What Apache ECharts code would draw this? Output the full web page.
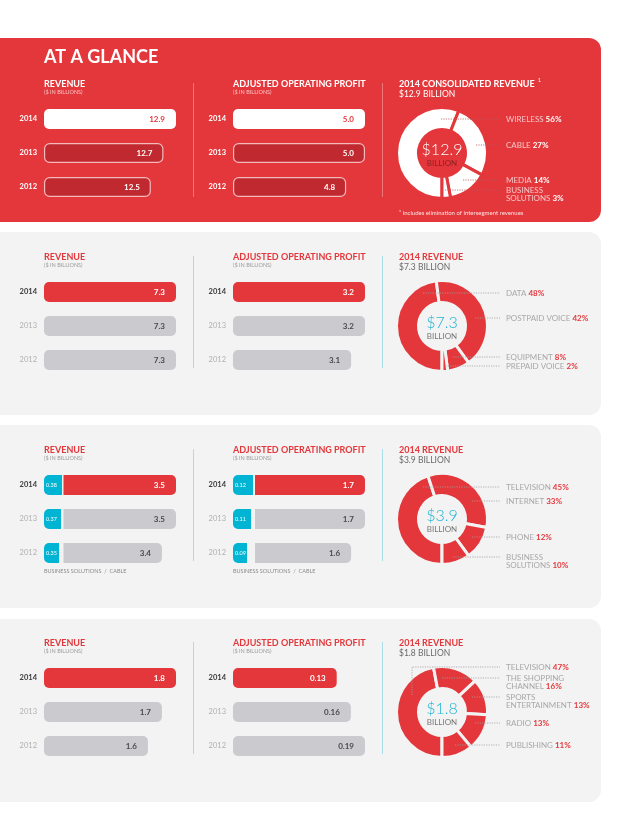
<!DOCTYPE html>
<html><head><meta charset="utf-8">
<script src="https://cdn.jsdelivr.net/npm/echarts@6/dist/echarts.min.js"></script>
<style>html,body{margin:0;padding:0;background:#fff;}#c{width:644px;height:840px;}</style>
</head><body><div id="c"></div>
<script>
// ---------- DATA ----------
const years = ['2014', '2013', '2012'];

// Consolidated
const consRevenue = [12.9, 12.7, 12.5];
const consProfit = [5.0, 5.0, 4.8];
const consSegments = ['WIRELESS', 'CABLE', 'MEDIA', 'BUSINESS\nSOLUTIONS'];
const consShares = [56, 27, 14, 3];
const consTotal = '$12.9';

// Wireless
const wirelessRevenue = [7.3, 7.3, 7.3];
const wirelessProfit = [3.2, 3.2, 3.1];
const wirelessSegments = ['DATA', 'POSTPAID VOICE', 'EQUIPMENT', 'PREPAID VOICE'];
const wirelessShares = [48, 42, 8, 2];
const wirelessTotal = '$7.3';

// Cable (business solutions / cable)
const cableBsRevenue = [0.38, 0.37, 0.35];
const cableRevenue = [3.5, 3.5, 3.4];
const cableBsProfit = [0.12, 0.11, 0.09];
const cableProfit = [1.7, 1.7, 1.6];
const cableSegments = ['TELEVISION', 'INTERNET', 'PHONE', 'BUSINESS\nSOLUTIONS'];
const cableShares = [45, 33, 12, 10];
const cableTotal = '$3.9';

// Media
const mediaRevenue = [1.8, 1.7, 1.6];
const mediaProfit = [0.13, 0.16, 0.19];
const mediaSegments = ['TELEVISION', 'THE SHOPPING\nCHANNEL', 'SPORTS\nENTERTAINMENT', 'RADIO', 'PUBLISHING'];
const mediaShares = [47, 16, 13, 13, 11];
const mediaTotal = '$1.8';

// ---------- STYLE / LAYOUT ----------
const RED = '#e4373b', DARK = '#c0292f', BAR_GREY = '#cbcbcf', BG = '#f3f3f3', CYAN = '#00b4d3';
const FONT = 'Lato, "Noto Sans", sans-serif';
const grids = [], xAxes = [], yAxes = [], series = [], graphic = [];

function addBars(o) {
  const gi = grids.length;
  const red = o.theme === 'red';
  grids.push({ left: o.left, top: o.mid - 51, width: o.width, height: 102, outerBoundsMode: 'none', containLabel: false });
  xAxes.push({ type: 'value', gridIndex: gi, min: o.min, max: o.max, startValue: o.min, show: false });
  yAxes.push({
    type: 'category', gridIndex: gi, data: years, inverse: true,
    axisLine: { show: false }, axisTick: { show: false }, splitLine: { show: false },
    axisLabel: {
      show: !!o.years, margin: 7,
      formatter: (v, i) => (i === 0 ? '{a|' : '{b|') + v + '}',
      rich: {
        a: { fontFamily: FONT, fontSize: 7.5, fontWeight: 'bold', color: red ? '#fff' : '#3a3a3a' },
        b: { fontFamily: FONT, fontSize: 7.5, fontWeight: red ? 'bold' : 'normal', color: red ? '#fff' : '#b0b0b0' }
      }
    }
  });
  const data = o.values.map((v, i) => {
    let fill, border = null, lab;
    if (o.kind === 'bs') { fill = CYAN; lab = '#fff'; }
    else if (red) { fill = i === 0 ? '#fff' : DARK; lab = i === 0 ? RED : '#fff'; if (i > 0) border = '#f4b9bb'; }
    else { fill = i === 0 ? RED : BAR_GREY; lab = i === 0 ? '#fff' : '#4a4a4a'; }
    const r = o.kind === 'bs' ? [5, 0, 0, 5] : (o.kind === 'cable' ? [0, 5, 5, 0] : 5);
    return { value: v, itemStyle: { color: fill, borderRadius: r, borderColor: border || fill, borderWidth: border ? 1.2 : 0 }, label: { color: lab } };
  });
  series.push({
    type: 'bar', xAxisIndex: gi, yAxisIndex: gi, barWidth: 20, data, animation: false, silent: true,
    label: {
      show: true, position: o.kind === 'bs' ? 'insideLeft' : 'insideRight', distance: o.kind === 'bs' ? 2 : 11,
      formatter: p => p.value.toFixed(o.dec), fontFamily: FONT,
      fontSize: o.kind === 'bs' ? 5.5 : 8, fontWeight: o.kind === 'bs' ? 'normal' : 'bold'
    }
  });
}

function lead(y, x0) { return { y, pts: [[x0, y], [500, y]] }; }

function addPie(o) {
  const red = o.theme === 'red';
  series.push({
    type: 'pie', center: [442, o.mid], radius: [23.5, 45.5], startAngle: -90, clockwise: true,
    avoidLabelOverlap: false, silent: true, animation: false,
    itemStyle: { color: red ? '#fff' : RED, borderColor: red ? RED : BG, borderWidth: 3 },
    label: {
      show: true, position: 'outside', fontFamily: FONT, fontSize: 8, lineHeight: 8.5,
      formatter: p => `{n|${p.name}} {p|${p.value}%}`,
      rich: {
        n: { fontFamily: FONT, fontSize: 8, lineHeight: 8.5, color: red ? '#f5c6c8' : '#a8a8a8' },
        p: { fontFamily: FONT, fontSize: 8, lineHeight: 8.5, fontWeight: 'bold', color: red ? '#fff' : RED }
      }
    },
    labelLine: { show: false },
    labelLayout: params => {
      const L = o.leaders[params.dataIndex];
      return { x: 506, y: L.y - 4.25, align: 'left', verticalAlign: 'top' };
    },
    data: o.names.map((n, i) => ({ name: n, value: o.shares[i] }))
  });
  // leader lines drawn above the ring
  o.leaders.forEach(L => graphic.push({
    type: 'polyline', z: 60, silent: true, shape: { points: L.pts },
    style: { stroke: red ? '#b9575a' : '#a0a0a0', lineWidth: 0.8, lineDash: [1.2, 1.2], fill: null }
  }));
}

function txt(x, y, text, font, fill, align) {
  return { type: 'text', x, y, z: 50, silent: true,
    style: { text, font, fill, align: align || 'left', verticalAlign: 'middle' } };
}
function vline(x, y1, y2, color) {
  return { type: 'line', z: 5, silent: true, shape: { x1: x, y1, x2: x, y2 }, style: { stroke: color, lineWidth: 1 } };
}

function panel(o) {
  const m = o.mid, red = o.theme === 'red';
  graphic.push({ type: 'rect', z: -10, silent: true, shape: { x: -20, y: o.top, width: 621, height: o.bottom - o.top, r: [0, 12, 12, 0] }, style: { fill: red ? RED : BG } });
  const tc = red ? '#fff' : RED, sc = red ? '#f6c2c4' : '#9a9a9a';
  graphic.push(txt(44, m - 69, 'REVENUE', 'bold 9px ' + FONT, tc));
  graphic.push(txt(44, m - 61, '($ IN BILLIONS)', '5.5px ' + FONT, sc));
  graphic.push(txt(233, m - 69, 'ADJUSTED OPERATING PROFIT', 'bold 9px ' + FONT, tc));
  graphic.push(txt(233, m - 61, '($ IN BILLIONS)', '5.5px ' + FONT, sc));
  if (red) {
    graphic.push({ type: 'text', x: 399, y: m - 69, z: 50, silent: true, style: {
      text: '{a|2014 CONSOLIDATED REVENUE} {s|1}', fill: '#fff', verticalAlign: 'middle',
      rich: { a: { font: 'bold 9px ' + FONT, fill: '#fff' }, s: { font: '5px ' + FONT, fill: '#fff', verticalAlign: 'top' } } } });
  } else {
    graphic.push(txt(399, m - 69, '2014 REVENUE', 'bold 9px ' + FONT, tc));
  }
  graphic.push(txt(399, m - 58.5, o.total + ' BILLION', '8.5px ' + FONT, red ? '#fff' : '#6a6a6a'));
  const dc = red ? '#ee7478' : '#a9dde8';
  graphic.push(vline(193.5, m - 70, m + (red ? 44 : 42), dc));
  graphic.push(vline(382.5, m - 70, m + (red ? 44 : 42), dc));
  graphic.push(txt(442, m - 3, o.total, '300 16px ' + FONT, red ? '#fff' : '#1fb4d4', 'center'));
  graphic.push(txt(442, m + 10.5, 'BILLION', '8px ' + FONT, red ? '#8e1f22' : '#777', 'center'));
}

// ---------- PANEL 1: consolidated ----------
let m = 153;
panel({ mid: m, top: 38, bottom: 222, theme: 'red', total: consTotal });
graphic.push(txt(44, 57, 'AT A GLANCE', 'bold 18px ' + FONT, '#fff'));
graphic.push(txt(399, m + 60, '\u00b9 Includes elimination of intersegment revenues', '6px ' + FONT, '#fbe0e0'));
addBars({ left: 44, width: 132, mid: m, values: consRevenue, min: 10.8, max: 12.9, dec: 1, theme: 'red', years: true });
addBars({ left: 233, width: 132, mid: m, values: consProfit, min: 3.6, max: 5.0, dec: 1, theme: 'red', years: true });
addPie({ mid: m, theme: 'red', names: consSegments, shares: consShares,
  leaders: [lead(m - 34, 441), lead(m - 8, 476), lead(m + 27, 463), lead(m + 37, 445)] });

// ---------- PANEL 2: wireless ----------
m = 326;
panel({ mid: m, top: 232, bottom: 415, theme: 'light', total: wirelessTotal });
addBars({ left: 44, width: 132, mid: m, values: wirelessRevenue, min: 6.3, max: 7.3, dec: 1, theme: 'light', years: true });
addBars({ left: 233, width: 132, mid: m, values: wirelessProfit, min: 2.25, max: 3.2, dec: 1, theme: 'light', years: true });
addPie({ mid: m, theme: 'light', names: wirelessSegments, shares: wirelessShares,
  leaders: [lead(m - 33, 423), lead(m - 8, 475), lead(m + 31, 453), lead(m + 40, 443)] });

// ---------- PANEL 3: cable ----------
m = 519;
panel({ mid: m, top: 425, bottom: 608, theme: 'light', total: cableTotal });
addBars({ left: 44, width: 18, mid: m, values: cableBsRevenue, min: 0.2, max: 0.38, dec: 2, theme: 'light', years: true, kind: 'bs' });
addBars({ left: 63.5, width: 112.5, mid: m, values: cableRevenue, min: 2.7, max: 3.5, dec: 1, theme: 'light', years: false, kind: 'cable' });
addBars({ left: 233, width: 20, mid: m, values: cableBsProfit, min: 0.02, max: 0.12, dec: 2, theme: 'light', years: true, kind: 'bs' });
addBars({ left: 255, width: 110, mid: m, values: cableProfit, min: 0.91, max: 1.7, dec: 1, theme: 'light', years: false, kind: 'cable' });
graphic.push(txt(44, m + 52, 'BUSINESS SOLUTIONS  /  CABLE', '5.5px ' + FONT, '#8a8a8a'));
graphic.push(txt(233, m + 52, 'BUSINESS SOLUTIONS  /  CABLE', '5.5px ' + FONT, '#8a8a8a'));
addPie({ mid: m, theme: 'light', names: cableSegments, shares: cableShares,
  leaders: [lead(m - 32, 423), lead(m - 18, 472), lead(m + 18, 472), lead(m + 38, 453)] });

// ---------- PANEL 4: media ----------
m = 712;
panel({ mid: m, top: 619, bottom: 802, theme: 'light', total: mediaTotal });
addBars({ left: 44, width: 132, mid: m, values: mediaRevenue, min: 0.86, max: 1.8, dec: 1, theme: 'light', years: true });
addBars({ left: 233, width: 132, mid: m, values: mediaProfit, min: -0.09, max: 0.19, dec: 2, theme: 'light', years: true });
addPie({ mid: m, theme: 'light', names: mediaSegments, shares: mediaShares,
  leaders: [{ y: m - 45, pts: [[412, m - 17], [412, m - 45], [500, m - 45]] },
            lead(m - 34, 442), lead(m - 15, 472), lead(m + 11, 475), lead(m + 33, 455)] });

const chart = echarts.init(document.getElementById('c'), null, { renderer: 'canvas' });
chart.setOption({
  backgroundColor: '#fff', animation: false,
  grid: grids, xAxis: xAxes, yAxis: yAxes, series, graphic
});
</script></body></html>
